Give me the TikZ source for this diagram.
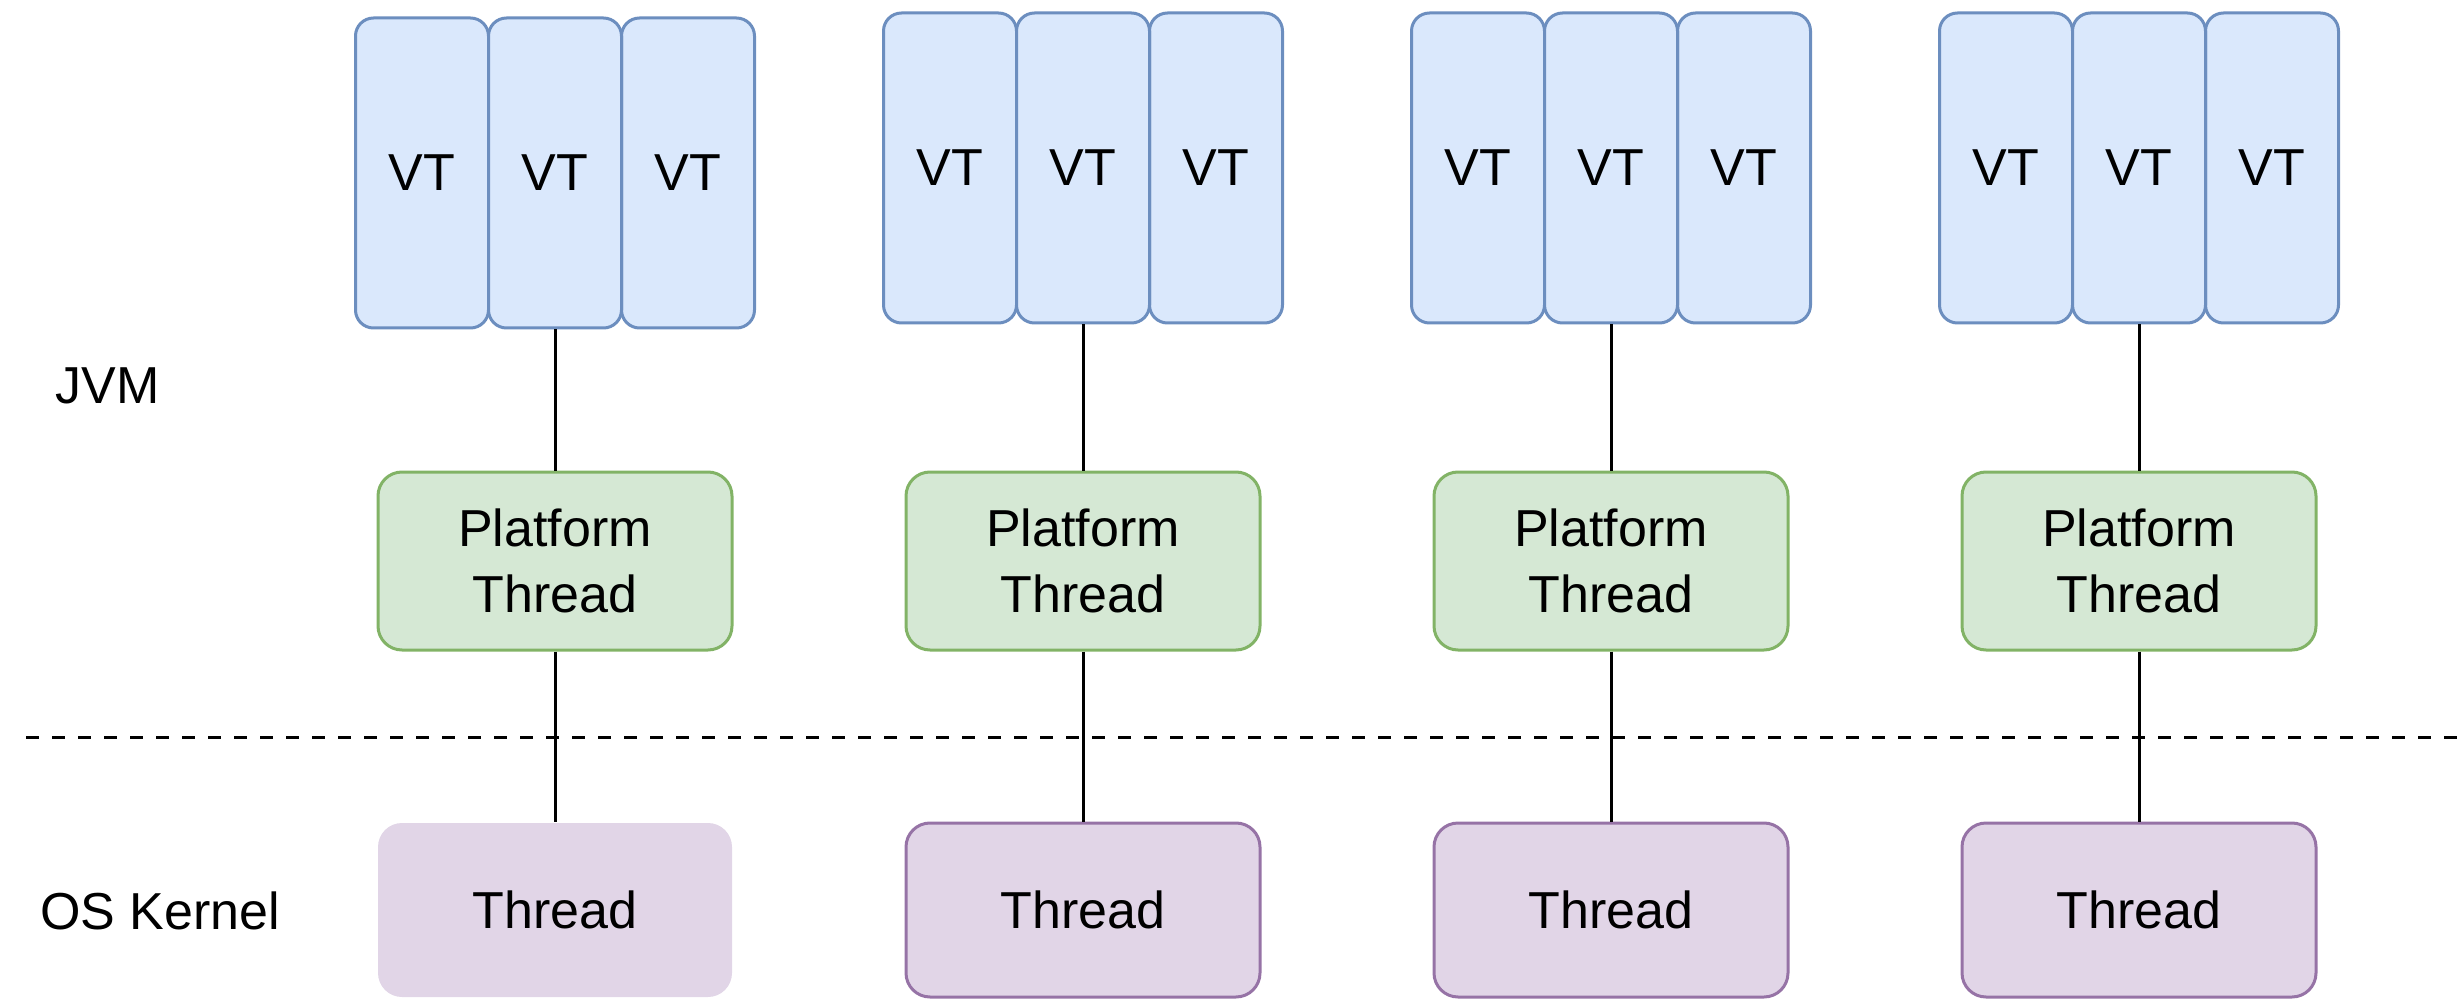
\documentclass[tikz,border=0pt]{standalone}
\usepackage{fontspec}
\setmainfont{Liberation Sans}
\definecolor{vtfill}{HTML}{DAE8FC}
\definecolor{vtline}{HTML}{6C8EBF}
\definecolor{ptfill}{HTML}{D5E8D4}
\definecolor{ptline}{HTML}{82B366}
\definecolor{osfill}{HTML}{E1D5E7}
\definecolor{osline}{HTML}{9673A6}
\tikzset{
  lbl/.style={font=\fontsize{26}{33}\selectfont, inner sep=0pt},
  vtbox/.style={lbl, rectangle, rounded corners=9pt, fill=vtfill, draw=vtline, line width=1.5pt,
    minimum width=66.5pt, minimum height=155pt},
  ptbox/.style={lbl, rectangle, rounded corners=12pt, fill=ptfill, draw=ptline, line width=1.5pt,
    minimum width=177pt, minimum height=89pt, align=center},
  osbox/.style={lbl, rectangle, rounded corners=12pt, fill=osfill, draw=osline, line width=1.5pt,
    minimum width=177pt, minimum height=87pt},
  osplain/.style={osbox, draw=none},
  link/.style={draw=black, line width=1.5pt},
  sep/.style={draw=black, line width=1.5pt, dash pattern=on 6.5pt off 6.5pt}
}
\begin{document}
\begin{tikzpicture}[x=0.5pt, y=-0.5pt]
\useasboundingbox (0,0) rectangle (2459,1000);
\coordinate (dl) at (26,737);
\coordinate (dr) at (2459,737);
\draw[sep] (dl) -- (dr);
\node[lbl, anchor=west] (jvm) at (55,386) {JVM};
\node[lbl, anchor=west] (kernel) at (40,911) {OS Kernel};
\foreach \i/\cx/\vy/\os in {1/555/173/osplain, 2/1083/168/osbox, 3/1611/168/osbox, 4/2139/168/osbox}{
  \node[vtbox] (vta\i) at (\cx-133,\vy) {VT};
  \node[vtbox] (vtc\i) at (\cx+133,\vy) {VT};
  \node[vtbox] (vtb\i) at (\cx,\vy) {VT};
  \node[ptbox] (pt\i) at (\cx,561) {Platform\\Thread};
  \node[\os] (os\i) at (\cx,910) {Thread};
  \draw[link] (vtb\i.south) -- (pt\i.north);
  \draw[link] (pt\i.south) -- (os\i.north);
}
\end{tikzpicture}
\end{document}
